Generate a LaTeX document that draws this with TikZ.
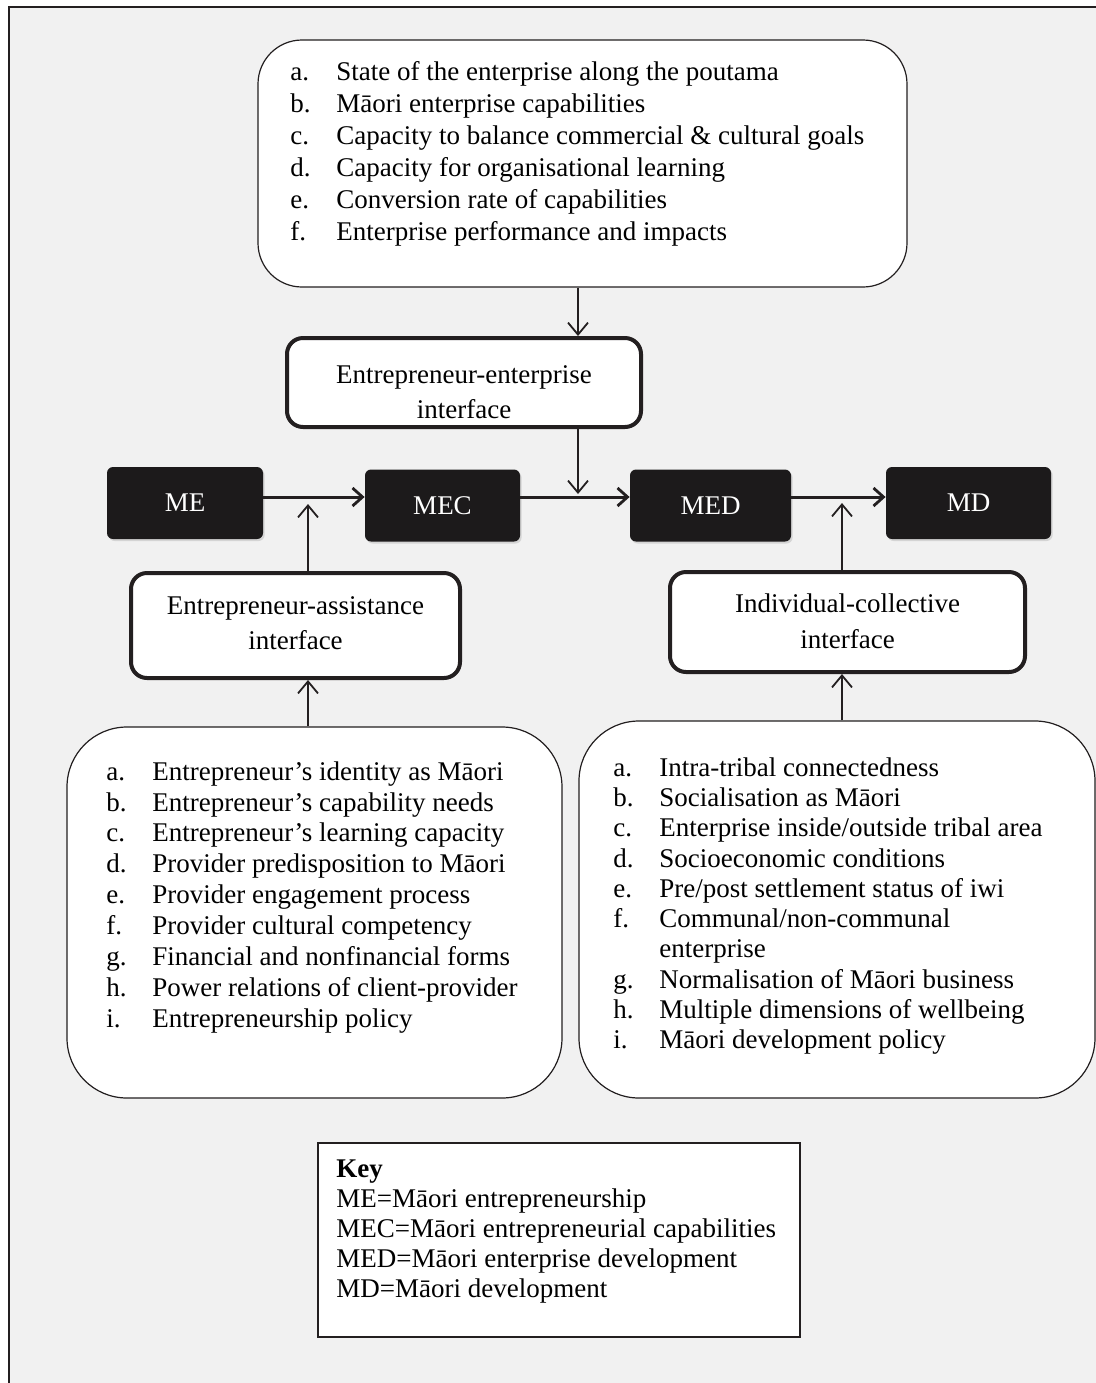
\documentclass[tikz,border=0pt]{standalone}
\usepackage{fontspec}
\setmainfont{Liberation Serif}
\usetikzlibrary{arrows.meta,shadows}

\definecolor{bgcol}{RGB}{241,241,241}
\definecolor{inkcol}{RGB}{35,31,32}
\definecolor{blkcol}{RGB}{28,26,27}

\tikzset{
  listbox/.style={draw=inkcol, line width=0.6pt, fill=white, rounded corners=28pt, inner sep=0pt},
  listtxt/.style={anchor=north west, align=left, inner sep=0pt},
  facebox/.style={draw=inkcol, line width=2pt, fill=white, rounded corners=8pt, inner sep=0pt},
  facetxt/.style={align=center, inner sep=0pt, font=\fontsize{13.5}{17.8}\selectfont},
  blkbox/.style={fill=blkcol, rounded corners=3pt, text=white, inner sep=0pt, minimum height=36pt,
    drop shadow={opacity=0.25, shadow xshift=0.8pt, shadow yshift=-1pt}},
  flow/.style={draw=inkcol, line width=1.5pt, -{Straight Barb[length=5pt,width=9pt,line width=1.4pt]}},
  feed/.style={draw=inkcol, line width=0.9pt, -{Straight Barb[length=6pt,width=10pt,line width=0.9pt]}},
}
\newcommand{\itm}[2]{\makebox[23pt][l]{#1}#2}

\begin{document}
\begin{tikzpicture}[x=0.5pt,y=0.5pt,yscale=-1,xscale=1,font=\fontsize{13.5}{16}\selectfont]
\useasboundingbox (0,0) rectangle (1096,1383);

%Shape: Frame
\fill[bgcol] (9,7) rectangle (1096,1383);
\draw[inkcol, line width=1.2pt] (9,1383) -- (9,7) -- (1096,7);

%Shape: Rounded Rect (enterprise factors)
\node[listbox, minimum width=324.5pt, minimum height=123.5pt, rounded corners=22pt] (goals) at (582.5,163.5) {};
\node[listtxt] (goalstxt) at (290,61) {%
\itm{a.}{State of the enterprise along the poutama}\\
\itm{b.}{Māori enterprise capabilities}\\
\itm{c.}{Capacity to balance commercial \& cultural goals}\\
\itm{d.}{Capacity for organisational learning}\\
\itm{e.}{Conversion rate of capabilities}\\
\itm{f.}{Enterprise performance and impacts}};

%Shape: Rounded Rect (interfaces)
\node[facebox, minimum width=177pt, minimum height=44.5pt] (ee) at (464,382.5) {};
\node[facetxt] (eetxt) at (464,392) {Entrepreneur-enterprise\\interface};
\node[facebox, minimum width=164.5pt, minimum height=52.5pt] (ea) at (295.5,625.5) {};
\node[facetxt] (eatxt) at (295.5,623) {Entrepreneur-assistance\\interface};
\node[facebox, minimum width=177.5pt, minimum height=50pt] (ic) at (847.5,622) {};
\node[facetxt] (ictxt) at (847.5,621) {Individual-collective\\interface};

%Shape: Black Boxes
\node[blkbox, minimum width=78pt] (me) at (185,503) {ME};
\node[blkbox, minimum width=77.5pt] (mec) at (442.5,505.5) {MEC};
\node[blkbox, minimum width=80.5pt] (med) at (710.5,505.5) {MED};
\node[blkbox, minimum width=82.5pt] (md) at (968.5,503) {MD};

%Shape: Rounded Rect (assistance factors)
\node[listbox, minimum width=247.5pt, minimum height=185.5pt, rounded corners=30pt] (lbox) at (314.5,912.5) {};
\node[listtxt, font=\fontsize{13.5}{15.45}\selectfont] (lboxtxt) at (106,761) {%
\itm{a.}{Entrepreneur’s identity as Māori}\\
\itm{b.}{Entrepreneur’s capability needs}\\
\itm{c.}{Entrepreneur’s learning capacity}\\
\itm{d.}{Provider predisposition to Māori}\\
\itm{e.}{Provider engagement process}\\
\itm{f.}{Provider cultural competency}\\
\itm{g.}{Financial and nonfinancial forms}\\
\itm{h.}{Power relations of client-provider}\\
\itm{i.}{Entrepreneurship policy}};

%Shape: Rounded Rect (collective factors)
\node[listbox, minimum width=258pt, minimum height=188.5pt, rounded corners=30pt] (rbox) at (837,909.5) {};
\node[listtxt, font=\fontsize{13.5}{15.15}\selectfont] (rboxtxt) at (613,757) {%
\itm{a.}{Intra-tribal connectedness}\\
\itm{b.}{Socialisation as Māori}\\
\itm{c.}{Enterprise inside/outside tribal area}\\
\itm{d.}{Socioeconomic conditions}\\
\itm{e.}{Pre/post settlement status of iwi}\\
\itm{f.}{Communal/non-communal}\\
\itm{}{enterprise}\\
\itm{g.}{Normalisation of Māori business}\\
\itm{h.}{Multiple dimensions of wellbeing}\\
\itm{i.}{Māori development policy}};

%Shape: Key
\node[draw=inkcol, line width=0.6pt, fill=white, minimum width=241pt, minimum height=97pt, inner sep=0pt] (key) at (559,1240) {};
\node[listtxt, font=\fontsize{13.5}{15}\selectfont] (keytxt) at (336,1159) {%
\textbf{Key}\\
ME=Māori entrepreneurship\\
MEC=Māori entrepreneurial capabilities\\
MED=Māori enterprise development\\
MD=Māori development};

%Straight Lines
\coordinate (axis) at (0,497);
\coordinate (drop) at (578,494);
\coordinate (leftup) at (308,504);
\coordinate (rightup) at (842,503);

\draw[flow] (me.east |- axis) -- (mec.west |- axis);
\draw[flow] (mec.east |- axis) -- (med.west |- axis);
\draw[flow] (med.east |- axis) -- (md.west |- axis);

\draw[feed] (goals.south -| drop) -- (ee.north -| drop);
\draw[feed] (ee.south -| drop) -- (drop);
\draw[feed] (leftup |- ea.north) -- (leftup);
\draw[feed] (leftup |- lbox.north) -- (leftup |- ea.south);
\draw[feed] (rightup |- ic.north) -- (rightup);
\draw[feed] (rightup |- rbox.north) -- (rightup |- ic.south);

\end{tikzpicture}
\end{document}
